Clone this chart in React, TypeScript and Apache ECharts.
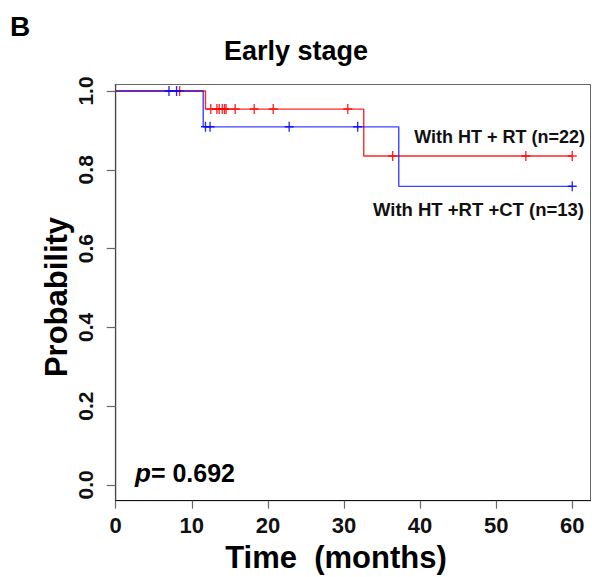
import React, { useEffect, useRef } from "react";
import * as echarts from "echarts";

// Kaplan–Meier step curves (time in months, survival probability)
const htRtSteps: [number, number][] = [
  [0, 1.0],
  [11.8, 0.954],
  [32.6, 0.835],
  [60, 0.835],
];
const htRtCtSteps: [number, number][] = [
  [0, 1.0],
  [11.5, 0.909],
  [37.2, 0.758],
  [60, 0.758],
];
// censored observations (time in months)
const htRtCensor: number[] = [8.4, 12.5, 13.3, 13.6, 14.0, 14.3, 14.5, 15.7, 18.2, 20.7, 30.5, 36.4, 53.9, 60];
const htRtCtCensor: number[] = [7.0, 8.0, 11.8, 12.4, 22.8, 31.8, 60];

const xTicks: number[] = [0, 10, 20, 30, 40, 50, 60];
const yTicks: number[] = [0, 0.2, 0.4, 0.6, 0.8, 1.0];

const labelHtRt = "With HT + RT (n=22)";
const labelHtRtCt = "With HT +RT +CT (n=13)";
const pValue = "0.692";

const FONT = "'Liberation Sans', Arial, Helvetica, sans-serif";
const PLUS = "path://M-0.15,-1 L0.15,-1 L0.15,-0.15 L1,-0.15 L1,0.15 L0.15,0.15 L0.15,1 L-0.15,1 L-0.15,0.15 L-1,0.15 L-1,-0.15 L-0.15,-0.15 Z";

function levelAt(steps: [number, number][], t: number): number {
  let v = steps[0][1];
  for (const [x, y] of steps) {
    if (x <= t) v = y;
  }
  return v;
}

export default function App() {
  const ref = useRef<HTMLDivElement>(null);
  useEffect(() => {
    if (!ref.current) return;
    const chart = echarts.init(ref.current, null, { renderer: "svg" });
    chart.setOption({
      animation: false,
      grid: {
        left: 115.7,
        right: 1.5,
        top: 84.5,
        bottom: 76.3,
        show: true,
        borderColor: "#666",
        borderWidth: 1,
        outerBoundsMode: "none",
        containLabel: false,
      },
      xAxis: {
        type: "value",
        min: 0,
        max: 62.4,
        splitLine: { show: false },
        axisLine: { show: true, onZero: false, lineStyle: { color: "#111", width: 1.2 } },
        axisTick: {
          show: true,
          length: 8,
          lineStyle: { color: "#666", width: 1.2 },
          customValues: xTicks,
        },
        axisLabel: {
          customValues: xTicks,
          margin: 15,
          lineHeight: 20,
          fontFamily: FONT,
          fontWeight: "bold",
          fontSize: 22,
          color: "#111",
        },
      },
      yAxis: {
        type: "value",
        min: -0.04,
        max: 1.0165,
        splitLine: { show: false },
        axisLine: { show: true, onZero: false, lineStyle: { color: "#444", width: 1.2 } },
        axisTick: {
          show: true,
          length: 9,
          lineStyle: { color: "#666", width: 1.2 },
          customValues: yTicks,
        },
        axisLabel: {
          customValues: yTicks,
          rotate: 90,
          margin: 20,
          formatter: (v: number) => v.toFixed(1),
          fontFamily: FONT,
          fontWeight: "bold",
          fontSize: 21,
          color: "#111",
        },
      },
      series: [
        {
          type: "line",
          step: "end",
          data: htRtSteps,
          symbol: "none",
          lineStyle: { color: "#ff0000", width: 1.4, opacity: 0.85 },
          z: 2,
        },
        {
          type: "scatter",
          data: htRtCensor.map((t) => [t, levelAt(htRtSteps, t)]),
          symbol: PLUS,
          symbolSize: [9, 10],
          itemStyle: { color: "#ff0000", opacity: 0.85 },
          z: 2,
        },
        {
          type: "line",
          step: "end",
          data: htRtCtSteps,
          symbol: "none",
          lineStyle: { color: "#0000ff", width: 1.4, opacity: 0.75 },
          z: 3,
        },
        {
          type: "scatter",
          data: htRtCtCensor.map((t) => [t, levelAt(htRtCtSteps, t)]),
          symbol: PLUS,
          symbolSize: [9, 10],
          itemStyle: { color: "#0000ff", opacity: 0.85 },
          z: 3,
        },
      ],
      graphic: [
        {
          type: "text",
          left: 10,
          top: 12,
          style: { text: "B", font: `bold 28px ${FONT}`, fill: "#000" },
        },
        {
          type: "text",
          x: 296,
          y: 51,
          style: {
            text: "Early stage",
            font: `bold 27px ${FONT}`,
            fill: "#000",
            align: "center",
            verticalAlign: "middle",
            lineHeight: 28,
          },
        },
        {
          type: "text",
          x: 336,
          y: 557,
          style: {
            text: "Time  (months)",
            font: `bold 31px ${FONT}`,
            fill: "#000",
            align: "center",
            verticalAlign: "middle",
            lineHeight: 26,
          },
        },
        {
          type: "text",
          x: 56,
          y: 297,
          rotation: Math.PI / 2,
          style: {
            text: "Probability",
            font: `bold 31px ${FONT}`,
            fill: "#000",
            align: "center",
            verticalAlign: "middle",
          },
        },
        {
          type: "text",
          x: 585,
          y: 137,
          style: {
            text: labelHtRt,
            font: `bold 18px ${FONT}`,
            fill: "#111",
            align: "right",
            verticalAlign: "middle",
          },
        },
        {
          type: "text",
          x: 584,
          y: 209,
          style: {
            text: labelHtRtCt,
            font: `bold 18.5px ${FONT}`,
            fill: "#111",
            align: "right",
            verticalAlign: "middle",
          },
        },
        {
          type: "text",
          x: 135,
          y: 473,
          style: {
            text: `{p|p}{v|= ${pValue}}`,
            verticalAlign: "middle",
            rich: {
              p: { font: `italic bold 26px ${FONT}`, fill: "#000" },
              v: { font: `bold 25px ${FONT}`, fill: "#000" },
            },
          },
        },
      ],
    });
    return () => chart.dispose();
  }, []);
  return <div ref={ref} style={{ width: 592, height: 577, position: "absolute", left: 0, top: 0 }} />;
}
